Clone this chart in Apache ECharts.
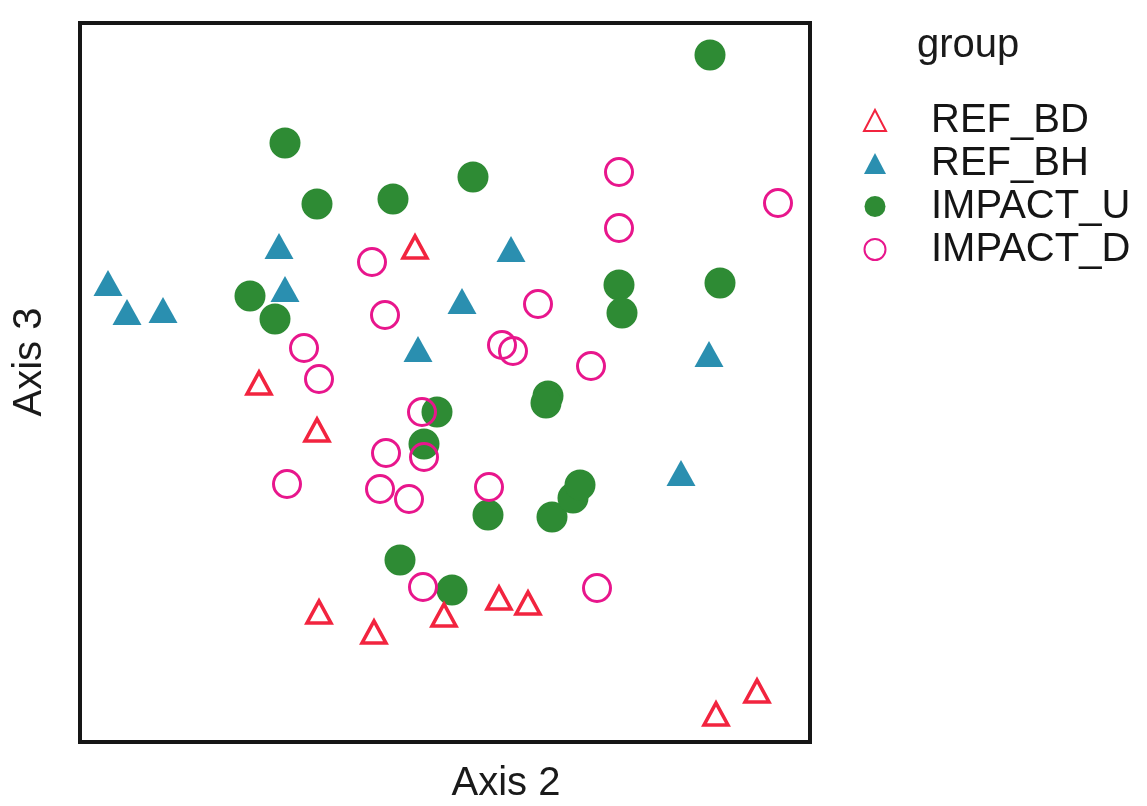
<!DOCTYPE html>
<html>
<head>
<meta charset="utf-8">
<script src="https://cdn.jsdelivr.net/npm/echarts@6/dist/echarts.min.js"></script>
<style>
  html, body { margin: 0; padding: 0; background: #fff; }
  #chart { width: 1147px; height: 806px; }
</style>
</head>
<body>
<div id="chart"></div>
<script>
// Ordination scores (Axis 2, Axis 3), arbitrary units
const groups = ['REF_BD', 'REF_BH', 'IMPACT_U', 'IMPACT_D'];

const refBD = [
  [335, 495], [179, 359], [237, 312], [239, 130], [294, 110],
  [364, 127], [419, 144], [448, 139], [636, 28], [677, 51]
];
const refBH = [
  [28, 459], [47, 430], [83, 432], [199, 496], [205, 453],
  [338, 393], [382, 441], [431, 493], [629, 388], [601, 269]
];
const impactU = [
  [205, 599], [237, 538], [313, 543], [393, 565], [630, 687],
  [170, 446], [195, 423], [539, 457], [542, 429], [640, 459],
  [468, 346], [466, 339], [357, 330], [344, 298], [408, 227],
  [472, 225], [493, 244], [500, 257], [320, 182], [372, 152]
];
const impactD = [
  [539, 570], [539, 514], [698, 539], [292, 480], [305, 427],
  [224, 394], [239, 363], [458, 438], [422, 397], [433, 391],
  [511, 376], [342, 330], [344, 285], [306, 289], [207, 258],
  [300, 253], [329, 243], [409, 255], [343, 155], [517, 154]
];
const xRange = [0, 730];
const yRange = [0, 719];

const chart = echarts.init(document.getElementById('chart'), null, { renderer: 'canvas' });
const FONT = 'Liberation Sans, Arial, Helvetica, sans-serif';

const hiddenAxis = {
  type: 'value',
  axisLine: { show: false },
  axisTick: { show: false },
  axisLabel: { show: false },
  splitLine: { show: false }
};

chart.setOption({
  backgroundColor: '#ffffff',
  animation: false,
  grid: {
    left: 80, top: 23, width: 730, height: 719,
    show: true, borderColor: '#161616', borderWidth: 4,
    backgroundColor: '#ffffff', containLabel: false
  },
  xAxis: Object.assign({}, hiddenAxis, { min: xRange[0], max: xRange[1] }),
  yAxis: Object.assign({}, hiddenAxis, { min: yRange[0], max: yRange[1] }),
  legend: {
    data: groups,
    orient: 'vertical',
    left: 858, top: 94,
    itemWidth: 22, itemHeight: 21,
    itemGap: 0,
    selectedMode: false,
    textStyle: { fontSize: 40, lineHeight: 43, color: '#151515', fontFamily: FONT, padding: [0, 0, 0, 40] }
  },
  graphic: [
    { type: 'text', x: 506, y: 784,
      style: { text: 'Axis 2', font: '40px ' + FONT, fill: '#1a1a1a', align: 'center', verticalAlign: 'middle' } },
    { type: 'text', x: 30, y: 362, rotation: Math.PI / 2,
      style: { text: 'Axis 3', font: '40px ' + FONT, fill: '#1a1a1a', align: 'center', verticalAlign: 'middle' } },
    { type: 'text', x: 917, y: 46,
      style: { text: 'group', font: '40px ' + FONT, fill: '#1a1a1a', align: 'left', verticalAlign: 'middle' } }
  ],
  series: [
    {
      name: 'IMPACT_U', type: 'scatter', data: impactU, z: 2, clip: false,
      symbol: 'circle', symbolSize: 31,
      itemStyle: { color: '#2e8b34', opacity: 1 }
    },
    {
      name: 'REF_BH', type: 'scatter', data: refBH, z: 3, clip: false,
      symbol: 'triangle', symbolSize: [29, 26],
      itemStyle: { color: '#2a8fb0', opacity: 1 }
    },
    {
      name: 'IMPACT_D', type: 'scatter', data: impactD, z: 4, clip: false,
      symbol: 'circle', symbolSize: 27,
      itemStyle: { color: 'rgba(255,255,255,0)', borderColor: '#e8168c', borderWidth: 3, opacity: 1 }
    },
    {
      name: 'REF_BD', type: 'scatter', data: refBD, z: 5, clip: false,
      symbol: 'triangle', symbolSize: [24, 22],
      itemStyle: { color: 'rgba(255,255,255,0)', borderColor: '#f2243f', borderWidth: 3.5, opacity: 1 }
    }
  ]
});
</script>
</body>
</html>
